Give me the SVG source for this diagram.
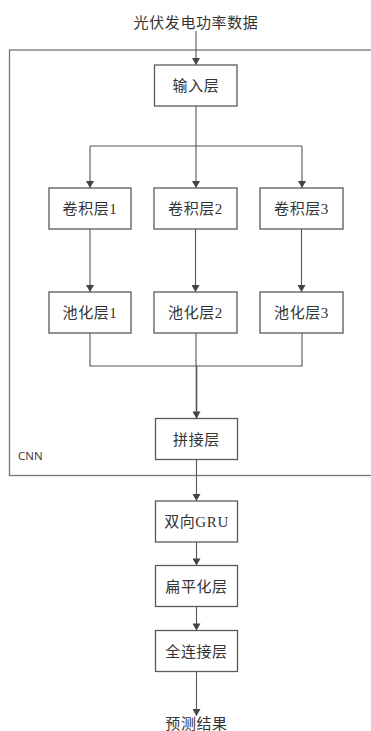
<svg xmlns="http://www.w3.org/2000/svg" width="371" height="731" viewBox="0 0 371 731">
<style>
.box{fill:#fff;stroke:#5a5a5a;stroke-width:1.3}
.t{font-family:"Liberation Serif","Noto Sans CJK SC",serif;font-size:15px;fill:#333;text-anchor:middle;letter-spacing:0.6px}
.c{fill:none;stroke:#555;stroke-width:1.1}
.frame{fill:none;stroke:#777;stroke-width:1.3}
</style>
<defs>
<marker id="ad" markerUnits="userSpaceOnUse" markerWidth="8" markerHeight="8" viewBox="0 0 8 8" refX="4" refY="8" orient="0">
<path d="M0,1 L8,1 L4,8 Z" fill="#444"/>
</marker>
</defs>
<g id="cnn-frame">
<rect class="frame" x="9.5" y="50" width="370" height="425.5"/>
<text x="18" y="460" style="font-family:'Open Sans','Liberation Sans',sans-serif;font-size:11.5px;fill:#333">CNN</text>
</g>
<g id="connectors">
<line class="c" x1="196" y1="31" x2="196" y2="65" marker-end="url(#ad)"/>
<path class="c" d="M196,106 V146 M90,146 H302"/>
<line class="c" x1="90" y1="146" x2="90" y2="188" marker-end="url(#ad)"/>
<line class="c" x1="196" y1="146" x2="196" y2="188" marker-end="url(#ad)"/>
<line class="c" x1="302" y1="146" x2="302" y2="188" marker-end="url(#ad)"/>
<line class="c" x1="90" y1="229" x2="90" y2="292" marker-end="url(#ad)"/>
<line class="c" x1="195.5" y1="229" x2="195.5" y2="292" marker-end="url(#ad)"/>
<line class="c" x1="301.5" y1="229" x2="301.5" y2="292" marker-end="url(#ad)"/>
<path class="c" d="M90,333 V366 H302 V333 M196,333 V366"/>
<line class="c" x1="196.5" y1="366" x2="196.5" y2="418.5" marker-end="url(#ad)" style="stroke-width:1.6"/>
<line class="c" x1="196.5" y1="459.5" x2="196.5" y2="501" marker-end="url(#ad)"/>
<line class="c" x1="196.5" y1="542" x2="196.5" y2="565.5" marker-end="url(#ad)"/>
<line class="c" x1="196.5" y1="606.5" x2="196.5" y2="630.5" marker-end="url(#ad)"/>
<line class="c" x1="196.5" y1="671.5" x2="196.5" y2="716" marker-end="url(#ad)"/>
</g>
<g id="title"><text class="t" x="196" y="28">光伏发电功率数据</text></g>
<g id="input"><rect class="box" x="154.5" y="65" width="82.5" height="41"/><text class="t" x="196" y="91">输入层</text></g>
<g id="conv1"><rect class="box" x="49" y="188" width="82" height="41"/><text class="t" x="90" y="214">卷积层1</text></g>
<g id="conv2"><rect class="box" x="154" y="188" width="83" height="41"/><text class="t" x="195.5" y="214">卷积层2</text></g>
<g id="conv3"><rect class="box" x="260" y="188" width="83" height="41"/><text class="t" x="301.5" y="214">卷积层3</text></g>
<g id="pool1"><rect class="box" x="49" y="292" width="82" height="41"/><text class="t" x="90" y="318">池化层1</text></g>
<g id="pool2"><rect class="box" x="154" y="292" width="83" height="41"/><text class="t" x="195.5" y="318">池化层2</text></g>
<g id="pool3"><rect class="box" x="260" y="292" width="83" height="41"/><text class="t" x="301.5" y="318">池化层3</text></g>
<g id="concat"><rect class="box" x="155.5" y="418.5" width="82" height="41"/><text class="t" x="196.5" y="444.5">拼接层</text></g>
<g id="bigru"><rect class="box" x="155.5" y="501" width="82" height="41"/><text class="t" x="196.5" y="527">双向GRU</text></g>
<g id="flatten"><rect class="box" x="155.5" y="565.5" width="82" height="41"/><text class="t" x="196.5" y="591.5">扁平化层</text></g>
<g id="fc"><rect class="box" x="155.5" y="630.5" width="82" height="41"/><text class="t" x="196.5" y="656.5">全连接层</text></g>
<g id="output"><text class="t" x="196.5" y="729">预测结果</text></g>
</svg>
